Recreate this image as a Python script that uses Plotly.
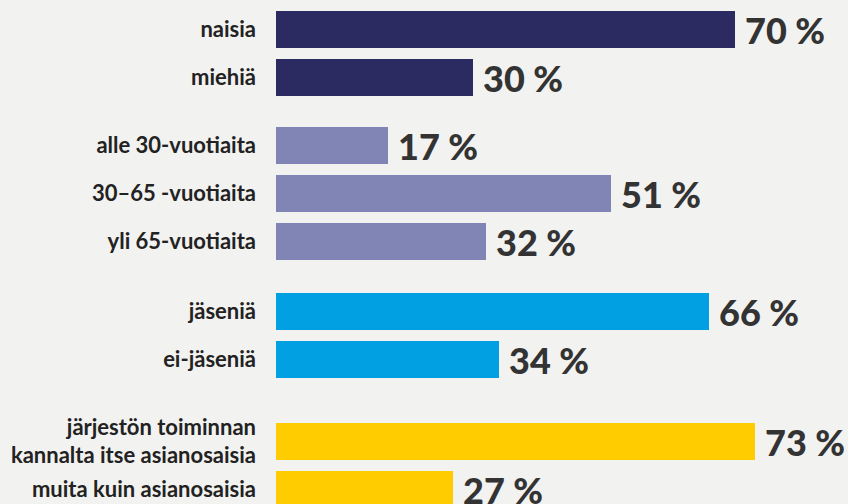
import plotly.graph_objects as go

# ---- data ----
group_labels = [
    ["naisia", "miehiä"],
    ["alle 30-vuotiaita", "30–65 -vuotiaita", "yli 65-vuotiaita"],
    ["jäseniä", "ei-jäseniä"],
    ["järjestön toiminnan<br>kannalta itse asianosaisia", "muita kuin asianosaisia"],
]
group_values = [
    [70, 30],
    [17, 51, 32],
    [66, 34],
    [73, 27],
]
group_colors = ["#2b2a61", "#8185b5", "#00a0e3", "#ffcc00"]

# ---- layout constants (pixel-based y units) ----
W, H = 848, 504
LEFT = 276
FIRST_CENTER = 29.3
PITCH = 48
GROUP_EXTRA = [20, 22, 34]
BAR_H = 36.7
PX_PER_PCT = 6.56

fig = go.Figure()
tickvals, ticktext = [], []
annotations = []
y = FIRST_CENTER
for gi, (labels, vals, col) in enumerate(zip(group_labels, group_values, group_colors)):
    ys = []
    for li, lab in enumerate(labels):
        if li > 0:
            y += PITCH
        ys.append(y)
        tickvals.append(y)
        ticktext.append(lab)
    fig.add_trace(go.Bar(
        x=vals, y=ys, orientation="h", width=BAR_H,
        marker=dict(color=col, line=dict(width=0)),
        hoverinfo="skip", showlegend=False,
    ))
    for v, yy in zip(vals, ys):
        annotations.append(dict(
            x=v, y=yy, xref="x", yref="y", text=f"{v} %",
            showarrow=False, xanchor="left", yanchor="middle", xshift=8, yshift=-1,
            font=dict(family="Lato", size=36, color="#333333", weight=900),
        ))
    if gi < len(GROUP_EXTRA):
        y += PITCH + GROUP_EXTRA[gi]

fig.update_layout(
    width=W, height=H,
    margin=dict(l=LEFT, r=0, t=0, b=0),
    paper_bgcolor="#f2f2f1", plot_bgcolor="#f2f2f1",
    annotations=annotations,
    bargap=0,
)
fig.update_xaxes(range=[0, (W - LEFT) / PX_PER_PCT], visible=False, fixedrange=True)
fig.update_yaxes(
    range=[H, 0], tickvals=tickvals, ticktext=ticktext,
    showgrid=False, zeroline=False, showline=False, ticks="",
    ticklabelstandoff=19,
    tickfont=dict(family="Lato", size=22, color="#222222", weight="bold"),
    fixedrange=True,
)

fig.write_html(
    "out.html",
    config={"displayModeBar": False},
    post_script="document.body.style.margin='0';document.body.style.background='#f2f2f1';",
)
